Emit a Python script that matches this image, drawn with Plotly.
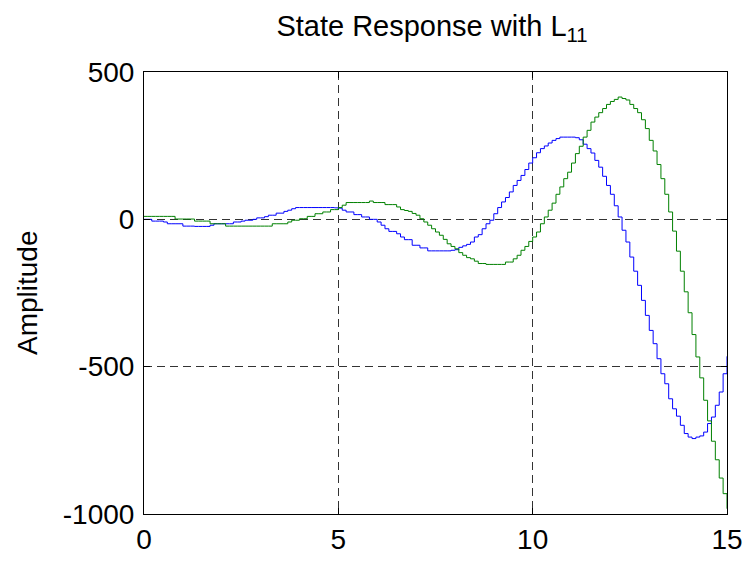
import plotly.graph_objects as go

dt = 0.1
n_steps = 151
t = [round(k * dt, 1) for k in range(n_steps)]

blue = [
    0, 0, -6, -6, -6, -9, -15, -15, -15, -15,
    -23, -23, -23, -24, -24, -24, -24, -20, -15, -15,
    -15, -15, -15, -9, -9, -6, -3, -3, 0, 5,
    5, 9, 14, 14, 21, 21, 27, 31, 36, 40,
    40, 40, 40, 40, 40, 40, 40, 40, 40, 39,
    38, 31, 25, 25, 16, 16, 8, 8, 0, 0,
    -9, -20, -32, -41, -41, -49, -60, -69, -69, -88,
    -88, -97, -97, -107, -107, -107, -107, -107, -107, -105,
    -103, -95, -90, -85, -77, -60, -52, -32, -15, -3,
    19, 40, 59, 74, 93, 115, 132, 149, 169, 191,
    209, 226, 240, 249, 259, 268, 274, 279, 279, 279,
    279, 277, 270, 255, 240, 225, 200, 177, 146, 115,
    85, 46, 8, -37, -77, -128, -176, -224, -275, -326,
    -377, -422, -473, -524, -558, -609, -643, -668, -699, -727,
    -739, -744, -739, -735, -722, -693, -671, -631, -586, -524,
    -465,
]

green = [
    10, 10, 10, 10, 10, 10, 10, 10, 1, 1,
    1, 1, 1, -6, -6, -6, -6, -15, -15, -15,
    -15, -23, -23, -23, -23, -23, -23, -23, -23, -23,
    -23, -23, -23, -15, -15, -15, -15, -9, -3, -3,
    2, 2, 10, 10, 19, 19, 25, 25, 33, 33,
    40, 48, 57, 57, 57, 57, 57, 57, 62, 57,
    57, 57, 50, 50, 50, 42, 33, 30, 27, 20,
    14, 2, -9, -20, -32, -43, -54, -68, -83, -92,
    -100, -113, -122, -130, -134, -142, -150, -150, -153, -153,
    -153, -153, -153, -145, -145, -134, -122, -105, -92, -75,
    -60, -43, -15, 8, 31, 55, 85, 110, 138, 160,
    191, 223, 248, 279, 302, 330, 347, 362, 376, 390,
    400, 407, 415, 410, 405, 390, 376, 362, 338, 308,
    268, 232, 186, 138, 85, 25, -40, -108, -176, -246,
    -317, -391, -467, -538, -614, -684, -753, -816, -878, -931,
    -982,
]

x_ticks = [0, 5, 10, 15]
y_ticks = [-1000, -500, 0, 500]

FONT = "Liberation Sans, Arial, sans-serif"

fig = go.Figure()
fig.add_trace(go.Scatter(x=t, y=blue, mode="lines", line=dict(color="#0000FF", width=1, shape="hv"),
                         showlegend=False, hoverinfo="skip"))
fig.add_trace(go.Scatter(x=t, y=green, mode="lines", line=dict(color="#008000", width=1, shape="hv"),
                         showlegend=False, hoverinfo="skip"))

axis_common = dict(
    showline=True, linecolor="black", linewidth=1, mirror="allticks",
    ticks="inside", ticklen=6, tickcolor="black", tickwidth=1,
    showgrid=True, gridcolor="#333333", gridwidth=1, griddash="8px,5px",
    zeroline=False, tickfont=dict(family=FONT, size=28, color="black"),
)

fig.update_xaxes(range=[0, 15], tickmode="array", tickvals=x_ticks,
                 ticktext=[str(v) for v in x_ticks], ticklabelstandoff=0, **axis_common)
fig.update_yaxes(range=[-1000, 500], tickmode="array", tickvals=y_ticks,
                 ticktext=[str(v) for v in y_ticks], ticklabelstandoff=3, **axis_common)

fig.update_layout(
    width=743, height=556,
    margin=dict(l=136, r=24, t=64, b=50, autoexpand=False),
    paper_bgcolor="white", plot_bgcolor="white",
    font=dict(family=FONT, color="black"),
    title=dict(text="State Response with L<sub>11</sub>", x=(432 - 8) / 743, xanchor="center",
               y=1 - (26 - 8) / 556, yanchor="middle", yref="container",
               font=dict(family=FONT, size=29, color="black")),
    annotations=[dict(text="Amplitude", textangle=-90, xref="paper", yref="paper",
                      x=(27 - 144) / 583, y=0.5, xanchor="center", yanchor="middle",
                      showarrow=False, font=dict(family=FONT, size=28, color="black"))],
)

fig.write_html("out.html")
